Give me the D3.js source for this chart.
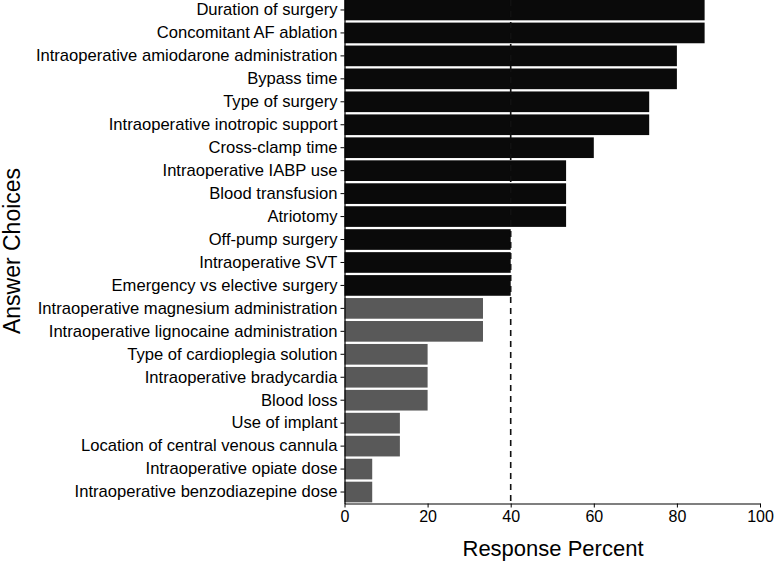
<!DOCTYPE html>
<html><head><meta charset="utf-8">
<script src="https://cdn.jsdelivr.net/npm/d3@7"></script>
<style>body{margin:0;background:#fff}svg{display:block}text{font-family:"Liberation Sans",Arial,sans-serif}</style>
</head><body><svg id="c" width="776" height="561"></svg>
<script>
const categories = ["Duration of surgery","Concomitant AF ablation","Intraoperative amiodarone administration","Bypass time","Type of surgery","Intraoperative inotropic support","Cross-clamp time","Intraoperative IABP use","Blood transfusion","Atriotomy","Off-pump surgery","Intraoperative SVT","Emergency vs elective surgery","Intraoperative magnesium administration","Intraoperative lignocaine administration","Type of cardioplegia solution","Intraoperative bradycardia","Blood loss","Use of implant","Location of central venous cannula","Intraoperative opiate dose","Intraoperative benzodiazepine dose"];
const values = [86.67,86.67,80,80,73.33,73.33,60,53.33,53.33,53.33,40,40,40,33.33,33.33,20,20,20,13.33,13.33,6.67,6.67];
const groups = ["high","high","high","high","high","high","high","high","high","high","high","high","high","low","low","low","low","low","low","low","low","low"];
const xTicks = [0,20,40,60,80,100];
const threshold = 40;
const colors = {high:"#0a0a0a", low:"#595959"};

const svg = d3.select("#c");
const x = d3.scaleLinear().domain([0,100]).range([344.5,760]);
const y = d3.scaleBand().domain(categories).range([-1.5,503.5]).paddingInner(0.1).paddingOuter(0.05);

svg.append("g").selectAll("rect").data(categories).join("rect")
  .attr("x", x(0)).attr("y", d=>y(d))
  .attr("width", (d,i)=>x(values[i])-x(0)).attr("height", y.bandwidth())
  .attr("fill", (d,i)=>colors[groups[i]]);

svg.append("line").attr("x1",x(threshold)).attr("x2",x(threshold))
  .attr("y1",0).attr("y2",503).attr("stroke","#111").attr("stroke-width",1.6)
  .attr("stroke-dasharray","6,5");

const xAxis = svg.append("g").attr("transform","translate(0,503.5)")
  .call(d3.axisBottom(x).tickValues(xTicks).tickSize(4).tickSizeOuter(0).tickPadding(3));
xAxis.select(".domain").attr("stroke","#000").attr("stroke-width",1.2);
xAxis.selectAll("text").attr("font-size",16).attr("fill","#000");
xAxis.selectAll(".tick line").attr("stroke","#000");

const yAxis = svg.append("g").attr("transform","translate(344.5,0)")
  .call(d3.axisLeft(y).tickSize(4).tickSizeOuter(0).tickPadding(3));
yAxis.select(".domain").attr("stroke","#000").attr("stroke-width",1.2);
yAxis.selectAll("text").attr("font-size",16.6).attr("fill","#000");
yAxis.selectAll(".tick line").attr("stroke","#000");

svg.append("text").attr("x",553).attr("y",556).attr("text-anchor","middle")
  .attr("font-size",22).text("Response Percent");
svg.append("text").attr("transform","translate(19.5,251) rotate(-90)").attr("text-anchor","middle")
  .attr("font-size",23).text("Answer Choices");
</script></body></html>
